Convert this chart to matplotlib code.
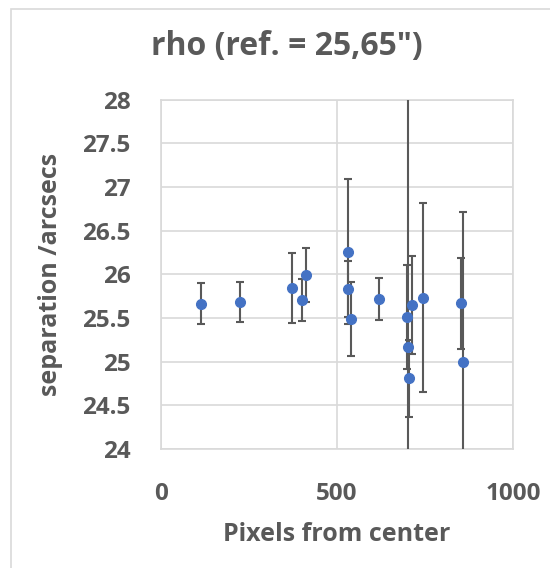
import matplotlib.pyplot as plt
from matplotlib.patches import Rectangle

# pixel offset from center vs measured separation (arcsec), with error
pixels = [113, 224, 372, 400, 411, 532, 532, 539, 620, 698, 714, 703, 705, 745, 851, 857]
rho = [25.665, 25.685, 25.845, 25.71, 25.99, 26.26, 25.83, 25.49, 25.72,
       25.51, 25.65, 25.17, 24.81, 25.73, 25.67, 25.00]
rho_err = [0.23, 0.23, 0.40, 0.24, 0.31, 0.83, 0.32, 0.42, 0.24,
           0.60, 0.56, 3.2, 0.44, 1.08, 0.52, 1.71]

xticks = [0, 500, 1000]
yticks = [24, 24.5, 25, 25.5, 26, 26.5, 27, 27.5, 28]

txt = '#595959'
grid = '#D9D9D9'
plt.rcParams['font.family'] = ['Open Sans', 'DejaVu Sans']
plt.rcParams['font.weight'] = 'bold'

fig = plt.figure(figsize=(5.5, 5.68), dpi=100)
ax = fig.add_axes([0.2927, 0.2095, 0.64, 0.6153])

# chart border
fig.patches.append(Rectangle((11 / 550, -0.1), 1.2, 1 - 9 / 568 + 0.1,
                             transform=fig.transFigure, fill=False,
                             edgecolor=grid, linewidth=1.2))

ax.errorbar(pixels, rho, yerr=rho_err, fmt='o', color='#4472C4', markersize=7,
            ecolor='#595959', elinewidth=1.5, capsize=3, capthick=1.5, zorder=3)

ax.set_xlim(0, 1000)
ax.set_ylim(24, 28)
ax.set_xticks(xticks)
ax.set_yticks(yticks)
ax.set_xticklabels([str(t) for t in xticks])
ax.set_yticklabels([('%g' % t) for t in yticks])
ax.grid(True, color=grid, linewidth=1.2)
ax.set_axisbelow(True)
for s in ax.spines.values():
    s.set_color(grid)
    s.set_linewidth(1.2)
ax.tick_params(length=0, labelsize=17.5, labelcolor=txt)
ax.tick_params(axis='y', pad=22)
ax.tick_params(axis='x', pad=23.5)

ax.set_xlabel('Pixels from center', fontsize=18, color=txt, fontweight='bold', labelpad=12)
ax.set_ylabel('separation /arcsecs', fontsize=18, color=txt, fontweight='bold', labelpad=13.5)
fig.text(0.5215, 1 - 55 / 568, 'rho (ref. = 25,65")', fontsize=23, color=txt,
         fontweight='bold', ha='center', va='baseline')

fig.savefig('out.png', dpi=100)
